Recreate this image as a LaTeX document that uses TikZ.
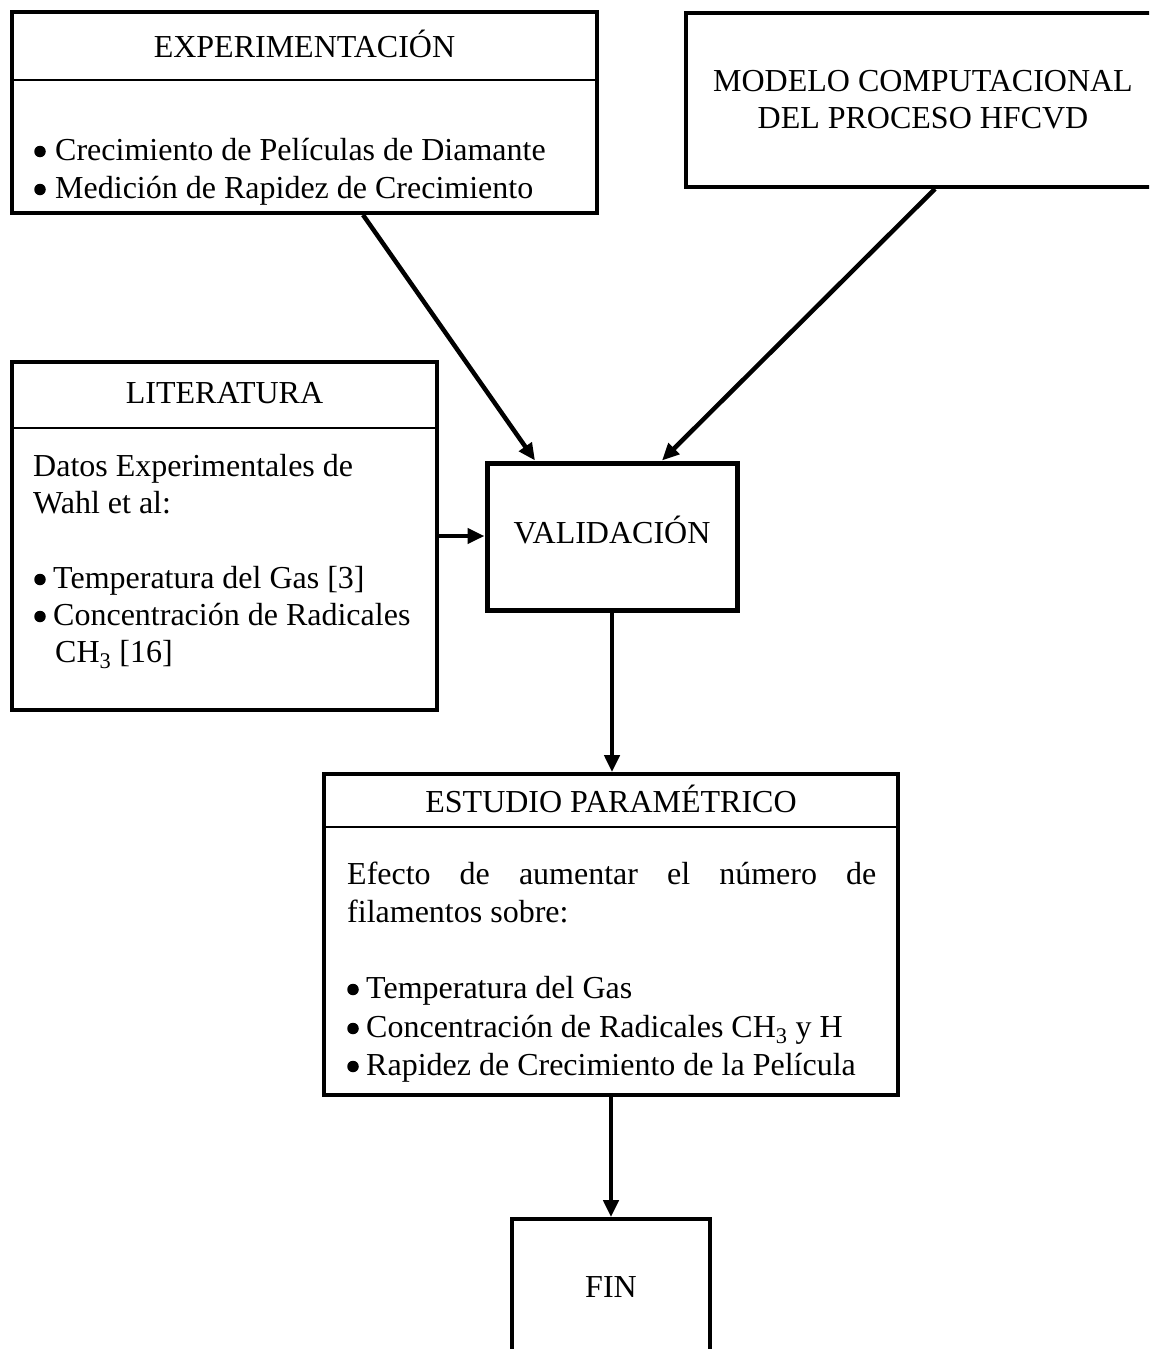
\documentclass[tikz,border=0pt]{standalone}
\usepackage{fontspec}
\setmainfont{Liberation Serif}
\usetikzlibrary{arrows.meta}
\begin{document}
\begin{tikzpicture}[x=1pt,y=-1pt,
  box/.style={draw, rectangle, line width=3.8pt, inner sep=0pt},
  thickbox/.style={box, line width=5pt},
  divider/.style={line width=2.8pt},
  fnt/.style={font=\fontsize{32}{38}\selectfont},
  ctr/.style={fnt, inner sep=0pt, anchor=base},
  txt/.style={fnt, inner sep=0pt, anchor=base west},
  dot/.style={circle, fill, inner sep=0pt, minimum size=11.5pt},
  arr/.style={-{Triangle[length=17pt,width=15pt]}, line width=4.5pt}]
\useasboundingbox (0,0) rectangle (1149,1349);
\clip (0,0) rectangle (1149,1349);
\fill[white] (0,0) rectangle (1149,1349);

% boxes
\node[box, minimum width=585pt, minimum height=201pt] (exp) at (304.5,112.5) {};
\draw[divider] (exp.west |- 0,80) -- (exp.east |- 0,80);
\node[box, minimum width=474pt, minimum height=174pt] (model) at (923,100) {};
\node[box, minimum width=425pt, minimum height=348pt] (lit) at (224.5,536) {};
\draw[divider] (lit.west |- 0,428) -- (lit.east |- 0,428);
\node[thickbox, minimum width=250pt, minimum height=147pt] (val) at (612,536.5) {};
\node[box, minimum width=574pt, minimum height=321pt] (est) at (611,934.5) {};
\draw[divider] (est.west |- 0,827) -- (est.east |- 0,827);
\node[box, minimum width=198pt, minimum height=201pt] (fin) at (611,1319.5) {};

% texts: experimentacion
\node[ctr] (expT) at (304.5,57) {EXPERIMENTACIÓN};
\node[dot] (expB1) at (40,151.5) {};
\node[txt] (exp1) at (55,160) {Crecimiento de Películas de Diamante};
\node[dot] (expB2) at (40,189.5) {};
\node[txt] (exp2) at (55,198) {Medición de Rapidez de Crecimiento};

% modelo
\node[ctr] (mod1) at (923,91) {MODELO COMPUTACIONAL};
\node[ctr] (mod2) at (923,128) {DEL PROCESO HFCVD};

% literatura
\node[ctr] (litT) at (224.5,403) {LITERATURA};
\node[txt] (lit1) at (33,476) {Datos Experimentales de};
\node[txt] (lit2) at (33,513) {Wahl et al:};
\node[dot] (litB1) at (40,579.5) {};
\node[txt] (lit3) at (53,588) {Temperatura del Gas [3]};
\node[dot] (litB2) at (40,616.5) {};
\node[txt] (lit4) at (53,625) {Concentración de Radicales};
\node[txt] (lit5) at (55,662) {CH\textsubscript{3} [16]};

% validacion
\node[ctr] (valT) at (612,543) {VALIDACIÓN};

% estudio
\node[ctr] (estT) at (611,812) {ESTUDIO PARAMÉTRICO};
\node[txt] (est1) at (347,884) {\makebox[529pt][s]{Efecto de aumentar el número de}};
\node[txt] (est2) at (347,922) {filamentos sobre:};
\node[dot] (estB1) at (353,989.5) {};
\node[txt] (est3) at (366,998) {Temperatura del Gas};
\node[dot] (estB2) at (353,1028.5) {};
\node[txt] (est4) at (366,1037) {Concentración de Radicales CH\textsubscript{3} y H};
\node[dot] (estB3) at (353,1066.5) {};
\node[txt] (est5) at (366,1075) {Rapidez de Crecimiento de la Película};

% fin
\node[ctr] (finT) at (611,1297) {FIN};

% arrows
\draw[arr] ([xshift=58.5pt]exp.south) -- ([xshift=-77pt]val.north);
\draw[arr] ([xshift=12pt]model.south) -- ([xshift=50pt]val.north);
\draw[arr] (lit.east) -- (lit.east -| val.west);
\draw[arr] (val.south) -- (val.south |- est.north);
\draw[arr] (est.south) -- (fin.north);
\end{tikzpicture}
\end{document}
